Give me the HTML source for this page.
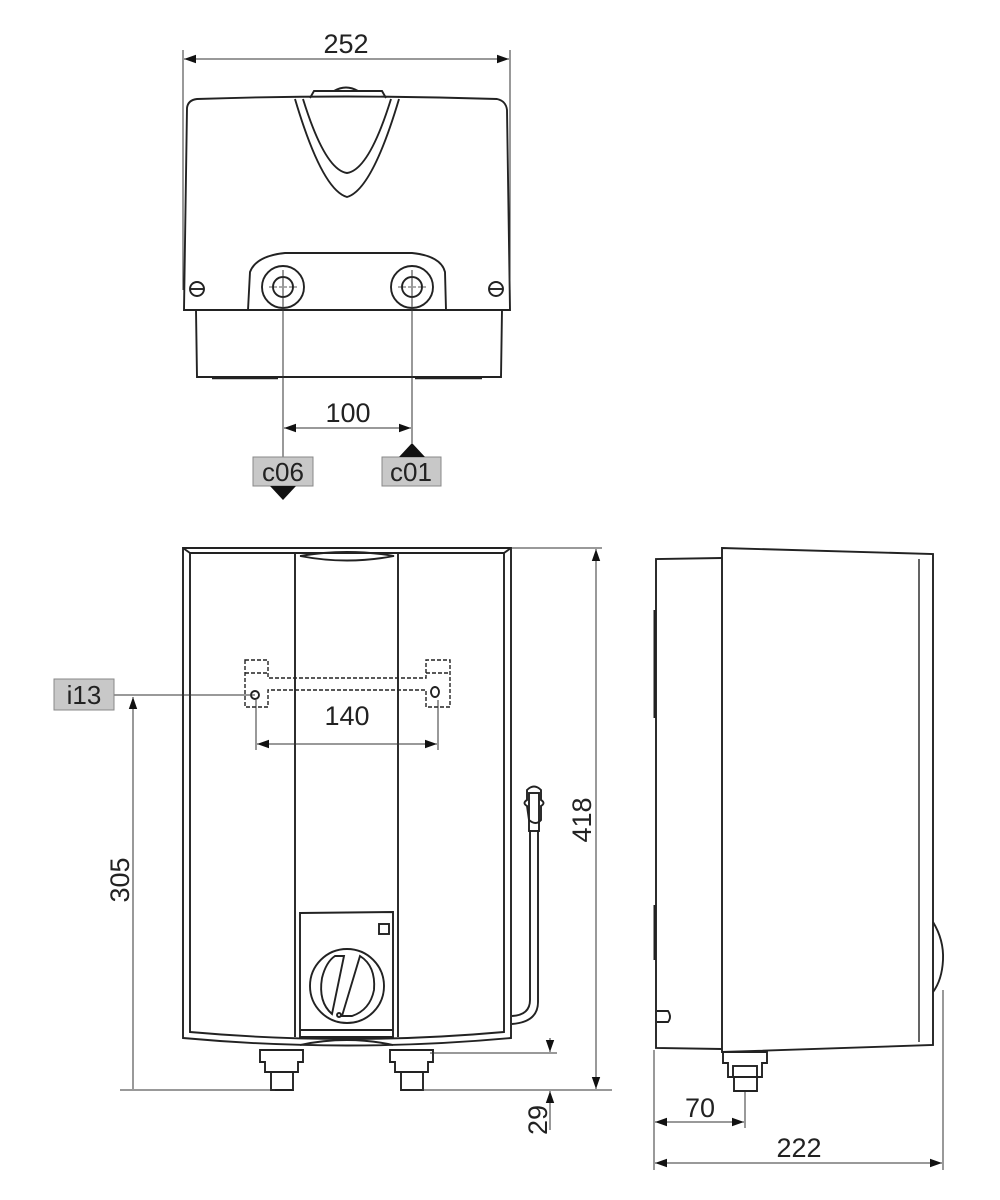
<!DOCTYPE html>
<html><head><style>html,body{margin:0;padding:0;background:#fff}svg{display:block}</style></head>
<body>
<svg width="1000" height="1200" viewBox="0 0 1000 1200" xmlns="http://www.w3.org/2000/svg" font-family="Liberation Sans, Arial, sans-serif">
<defs>
<marker id="a" viewBox="0 0 10 10" refX="10" refY="5" markerWidth="12" markerHeight="12" markerUnits="userSpaceOnUse" orient="auto-start-reverse"><path d="M0,1.5 L10,5 L0,8.5Z" fill="#111"/></marker>
</defs>
<g stroke="#222" fill="none" stroke-width="1.9">
<!-- TOP VIEW -->
<path d="M184,310 L187,108 Q188,100 197,99 Q346,94 497,99 Q506,101 507,110 L510,310 Z"/>
<path d="M310,98 L314,91 L382,91 L386,98" />
<path d="M334,91 Q346,84 358,91"/>
<path d="M295,99 Q322,190 347,197 Q372,190 399,99"/>
<path d="M303,99 Q325,170 347,173 Q369,170 391,99"/>
<path d="M248,310 L250,272 Q256,256 285,253 L412,253 Q441,256 445,272 L446,310"/>
<circle cx="283" cy="287" r="21"/><circle cx="283" cy="287" r="10"/>
<circle cx="412" cy="287" r="21"/><circle cx="412" cy="287" r="10"/>
<circle cx="197" cy="289" r="7"/><line x1="190" y1="289" x2="204" y2="289"/>
<circle cx="496" cy="289" r="7"/><line x1="489" y1="289" x2="503" y2="289"/>
<path d="M196,310 L197,377 L501,377 L502,310"/>
<line x1="212" y1="378" x2="278" y2="378" stroke-width="2.5"/>
<line x1="415" y1="378" x2="482" y2="378" stroke-width="2.5"/>
</g>
<g stroke="#222" stroke-width="0.8" stroke-dasharray="3,2">
<line x1="269" y1="287" x2="297" y2="287"/><line x1="398" y1="287" x2="426" y2="287"/>
</g>
<g stroke="#333" stroke-width="1" fill="none">
<line x1="183" y1="50" x2="183" y2="290"/><line x1="510" y1="50" x2="510" y2="290"/>
<line x1="184" y1="59" x2="509" y2="59" marker-start="url(#a)" marker-end="url(#a)"/>
<line x1="283" y1="270" x2="283" y2="457"/><line x1="412" y1="270" x2="412" y2="443"/>
<line x1="284" y1="428" x2="411" y2="428" marker-start="url(#a)" marker-end="url(#a)"/>
</g>
<text x="346" y="53" font-size="27" text-anchor="middle" fill="#222">252</text>
<text x="348" y="422" font-size="27" text-anchor="middle" fill="#222">100</text>
<rect x="253" y="457" width="60" height="29" fill="#c8c8c8" stroke="#888"/>
<text x="283" y="481" font-size="26" text-anchor="middle" fill="#222">c06</text>
<path d="M270,486 L296,486 L283,500Z" fill="#111"/>
<rect x="382" y="457" width="59" height="29" fill="#c8c8c8" stroke="#888"/>
<text x="411" y="481" font-size="26" text-anchor="middle" fill="#222">c01</text>
<path d="M399,457 L425,457 L412,443Z" fill="#111"/>

<!-- FRONT VIEW -->
<g stroke="#222" fill="none" stroke-width="1.9">
<path d="M183,548 L511,548 L511,1038 Q347,1053 183,1038 Z"/>
<path d="M190,553 L504,553 L504,1032 Q347,1046 190,1032 Z"/>
<line x1="183" y1="548" x2="190" y2="553"/><line x1="511" y1="548" x2="504" y2="553"/>
<line x1="295" y1="553" x2="295" y2="1037"/><line x1="398" y1="553" x2="398" y2="1037"/>
<path d="M300,556 Q347,548 394,556 Q347,565 300,556"/>
<path d="M300,913 L393,912 L393,1037 L300,1037 Z"/>
<line x1="300" y1="1030" x2="393" y2="1030"/>
<path d="M300,1045 Q347,1035 393,1045"/>
<rect x="379" y="924" width="10" height="10"/>
<circle cx="347" cy="986" r="37"/>
<path d="M335,956 L344,956 L332,1014 Q318,1002 322,978 Q326,962 335,956Z"/>
<path d="M360,956 Q376,966 374,990 Q370,1010 352,1016 L342,1016 Z"/>
<circle cx="339" cy="1015" r="2"/>
<!-- feet -->
<path d="M260,1050 L303,1050 L303,1062 L298,1062 L298,1072 L265,1072 L265,1062 L260,1062 Z"/>
<path d="M271,1072 L271,1090 L293,1090 L293,1072"/>
<path d="M390,1050 L433,1050 L433,1062 L428,1062 L428,1072 L395,1072 L395,1062 L390,1062 Z"/>
<path d="M401,1072 L401,1090 L423,1090 L423,1072"/>
<!-- cord and plug -->
<path d="M530,830 L530,1000 Q530,1015 512,1016"/>
<path d="M538,830 L538,1002 Q538,1022 512,1024"/>
<path d="M527,790 Q534,783 541,790 L541,800 Q546,803 541,806 L541,820 Q536,826 529,820 L527,806 Q522,803 527,800 Z"/>
<rect x="529" y="793" width="10" height="38"/>
<!-- bracket dashed -->
<g stroke-dasharray="4,2" stroke-width="1.4">
<path d="M245,660 L268,660 L268,678 L426,678 L426,660 L450,660 L450,707 L426,707 L426,690 L268,690 L268,707 L245,707 Z"/>
<line x1="245" y1="673" x2="268" y2="673"/><line x1="426" y1="673" x2="450" y2="673"/>
</g>
<circle cx="255" cy="695" r="4"/><ellipse cx="435" cy="692" rx="4" ry="5"/>
</g>
<g stroke="#333" stroke-width="1" fill="none">
<line x1="114" y1="695" x2="255" y2="695"/>
<line x1="133" y1="1089" x2="133" y2="697" marker-end="url(#a)"/>
<line x1="120" y1="1090" x2="275" y2="1090"/>
<line x1="410" y1="1090" x2="612" y2="1090"/>
<line x1="512" y1="548" x2="602" y2="548"/>
<line x1="596" y1="549" x2="596" y2="1089" marker-start="url(#a)" marker-end="url(#a)"/>
<line x1="256" y1="700" x2="256" y2="750"/><line x1="438" y1="700" x2="438" y2="750"/>
<line x1="257" y1="744" x2="437" y2="744" marker-start="url(#a)" marker-end="url(#a)"/>
<line x1="430" y1="1053" x2="557" y2="1053"/>
<line x1="550" y1="1038" x2="550" y2="1052" marker-end="url(#a)"/>
<line x1="550" y1="1130" x2="550" y2="1091" marker-end="url(#a)"/>
</g>
<rect x="54" y="679" width="60" height="31" fill="#c8c8c8" stroke="#888"/>
<text x="84" y="704" font-size="26" text-anchor="middle" fill="#222">i13</text>
<text x="347" y="725" font-size="27" text-anchor="middle" fill="#222">140</text>
<text transform="translate(129,880) rotate(-90)" font-size="27" text-anchor="middle" fill="#222">305</text>
<text transform="translate(591,820) rotate(-90)" font-size="27" text-anchor="middle" fill="#222">418</text>
<text transform="translate(547,1120) rotate(-90)" font-size="27" text-anchor="middle" fill="#222">29</text>

<!-- SIDE VIEW -->
<g stroke="#222" fill="none" stroke-width="1.9">
<path d="M722,558 L656,559 L656,1048 L722,1049"/>
<path d="M722,548 L933,554 L933,1045 L722,1052 Z"/>
<line x1="919" y1="559" x2="919" y2="1042" stroke-width="1.4"/>
<line x1="655" y1="610" x2="655" y2="718" stroke-width="3"/>
<line x1="655" y1="905" x2="655" y2="960" stroke-width="3"/>
<path d="M657,1011 L668,1011 Q672,1017 668,1022 L657,1022"/>
<path d="M933,922 Q944,940 943,960 Q942,980 933,992"/>
<path d="M723,1052 L767,1052 L767,1063 L762,1063 L762,1077 L728,1077 L728,1063 L723,1063 Z"/>
<rect x="733" y="1066" width="24" height="11"/>
<path d="M734,1077 L734,1091 L757,1091 L757,1077"/>
</g>
<g stroke="#333" stroke-width="1" fill="none">
<line x1="654" y1="1050" x2="654" y2="1170"/>
<line x1="943" y1="990" x2="943" y2="1170"/>
<line x1="745" y1="1092" x2="745" y2="1128"/>
<line x1="655" y1="1122" x2="744" y2="1122" marker-start="url(#a)" marker-end="url(#a)"/>
<line x1="655" y1="1163" x2="942" y2="1163" marker-start="url(#a)" marker-end="url(#a)"/>
</g>
<text x="700" y="1117" font-size="27" text-anchor="middle" fill="#222">70</text>
<text x="799" y="1157" font-size="27" text-anchor="middle" fill="#222">222</text>
</svg>
</body></html>
